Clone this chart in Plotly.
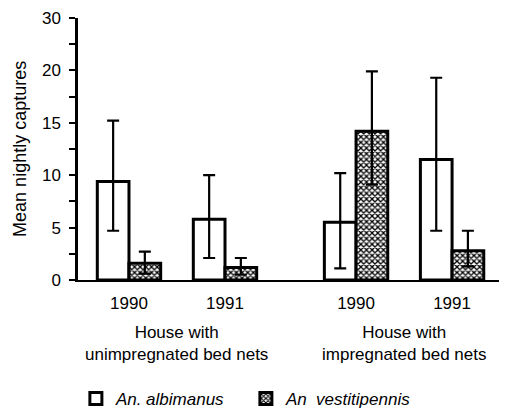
import plotly.graph_objects as go

# positions of the four category columns (two groups of two years)
positions = [0, 1, 2.365, 3.365]
year_labels = ["1990", "1991", "1990", "1991"]
group_labels = ["House with<br>unimpregnated bed nets", "House with<br>impregnated bed nets"]

alb_mean = [9.4, 5.8, 5.5, 11.5]
alb_upper = [15.2, 10.0, 10.2, 19.3]
alb_lower = [4.7, 2.1, 1.1, 4.7]

ves_mean = [1.6, 1.2, 14.2, 2.8]
ves_upper = [2.7, 2.1, 19.9, 4.7]
ves_lower = [0.6, 0.5, 9.1, 1.3]

y_tickvals = [0, 2.5, 5, 7.5, 10, 12.5, 15, 17.5, 20, 22.5, 25]
y_ticktext = ["0", "", "5", "", "10", "", "15", "", "20", "", "30"]

FONT = "Liberation Sans"

def err(mean, upper, lower):
    return dict(type="data", symmetric=False,
                array=[u - m for u, m in zip(upper, mean)],
                arrayminus=[m - l for m, l in zip(mean, lower)],
                color="black", thickness=2.2, width=6)

fig = go.Figure()
fig.add_trace(go.Bar(
    x=positions, y=alb_mean, name="An. albimanus",
    marker=dict(color="white", line=dict(color="black", width=3)),
    error_y=err(alb_mean, alb_upper, alb_lower),
))
fig.add_trace(go.Bar(
    x=positions, y=ves_mean, name="An  vestitipennis",
    marker=dict(color="white", line=dict(color="black", width=3),
                pattern=dict(shape="x", size=4, solidity=0.55,
                             fgcolor="black", bgcolor="white", fillmode="replace")),
    error_y=err(ves_mean, ves_upper, ves_lower),
))

group_centers = [(positions[0] + positions[1]) / 2, (positions[2] + positions[3]) / 2]
for gx, gl in zip(group_centers, group_labels):
    fig.add_annotation(x=gx, xref="x", y=-0.155, yref="paper", text=gl,
                       showarrow=False, xanchor="center", yanchor="top",
                       font=dict(family=FONT, size=17, color="black"))

fig.add_annotation(x=-0.137, xref="paper", y=0.5, yref="paper",
                   text="Mean nightly captures", textangle=-90, showarrow=False,
                   xanchor="center", yanchor="middle",
                   font=dict(family=FONT, size=18, color="black"))

fig.update_layout(
    width=507, height=416,
    margin=dict(l=70, r=13, t=10, b=144, autoexpand=False),
    paper_bgcolor="white", plot_bgcolor="white",
    font=dict(family=FONT, size=17, color="black"),
    barmode="group", bargap=0.34, bargroupgap=0,
    showlegend=True,
    legend=dict(orientation="h", x=-0.005, xanchor="left", y=-0.385, yanchor="top",
                font=dict(family=FONT, size=17, color="black", style="italic"),
                entrywidth=125, entrywidthmode="pixels",
                bgcolor="rgba(0,0,0,0)"),
    xaxis=dict(range=[-0.531, 3.885], tickvals=positions, ticktext=year_labels,
               showline=True, linecolor="black", linewidth=2, ticks="",
               showgrid=False, zeroline=False, ticklabelstandoff=7, automargin=False,
               tickfont=dict(family=FONT, size=17, color="black")),
    yaxis=dict(range=[0, 25], tickvals=y_tickvals, ticktext=y_ticktext,
               showline=True, linecolor="black", linewidth=2.5,
               ticks="outside", ticklen=6, tickwidth=2, tickcolor="black",
               showgrid=False, zeroline=False, ticklabelstandoff=5, automargin=False,
               ticklabeloverflow="allow",
               tickfont=dict(family=FONT, size=17, color="black")),
)

fig.write_html("out.html")
